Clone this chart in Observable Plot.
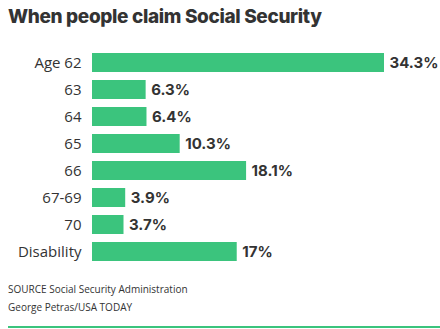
<!DOCTYPE html>
<html>
<head>
<meta charset="utf-8">
<script src="https://cdn.jsdelivr.net/npm/d3@7"></script>
<script src="https://cdn.jsdelivr.net/npm/@observablehq/plot@0.6"></script>
<style>
  html, body { margin: 0; padding: 0; background: #fff; }
  body { width: 440px; height: 329px; position: relative; overflow: hidden; font-family: "Open Sans", sans-serif; color: #333; }
  #title { position: absolute; left: 8px; top: 5px; font-family: Inter, sans-serif; font-weight: 800; font-size: 19px; color: #333; letter-spacing: -0.35px; white-space: nowrap; }
  #chart { position: absolute; left: 0; top: 40px; }
  .foot { position: absolute; left: 8px; font-size: 10px; color: #333; white-space: nowrap; }
  #rule { position: absolute; left: 8px; right: 0; top: 326px; height: 2px; background: #3BC47D; }
</style>
</head>
<body>
<div id="title">When people claim Social Security</div>
<div id="chart"></div>
<div class="foot" style="top:282px">SOURCE Social Security Administration</div>
<div class="foot" style="top:300px">George Petras/USA TODAY</div>
<div id="rule"></div>
<script>
const categories = ["Age 62", "63", "64", "65", "66", "67-69", "70", "Disability"];
const values = [34.3, 6.3, 6.4, 10.3, 18.1, 3.9, 3.7, 17];
const valueLabels = ["34.3%", "6.3%", "6.4%", "10.3%", "18.1%", "3.9%", "3.7%", "17%"];

const data = categories.map((c, i) => ({category: c, value: values[i], label: valueLabels[i]}));

const chart = Plot.plot({
  width: 440,
  height: 231,
  marginTop: 4,
  marginBottom: 0,
  marginLeft: 92,
  marginRight: 56,
  style: {fontFamily: "Open Sans, sans-serif", color: "#333", background: "#fff"},
  x: {domain: [0, 34.3], axis: null},
  y: {domain: categories, padding: 0.28, label: null, tickSize: 0, tickPadding: 11},
  marks: [
    Plot.axisY({tickSize: 0, tickPadding: 11, fontSize: 15, fill: "#333", label: null}),
    Plot.barX(data, {y: "category", x: "value", fill: "#3BC47D"}),
    Plot.text(data, {y: "category", x: "value", text: "label", textAnchor: "start", dx: 5, fontSize: 15, fontWeight: "bold", fontFamily: "Inter, sans-serif", fill: "#333"})
  ]
});
document.getElementById("chart").appendChild(chart);
</script>
</body>
</html>
